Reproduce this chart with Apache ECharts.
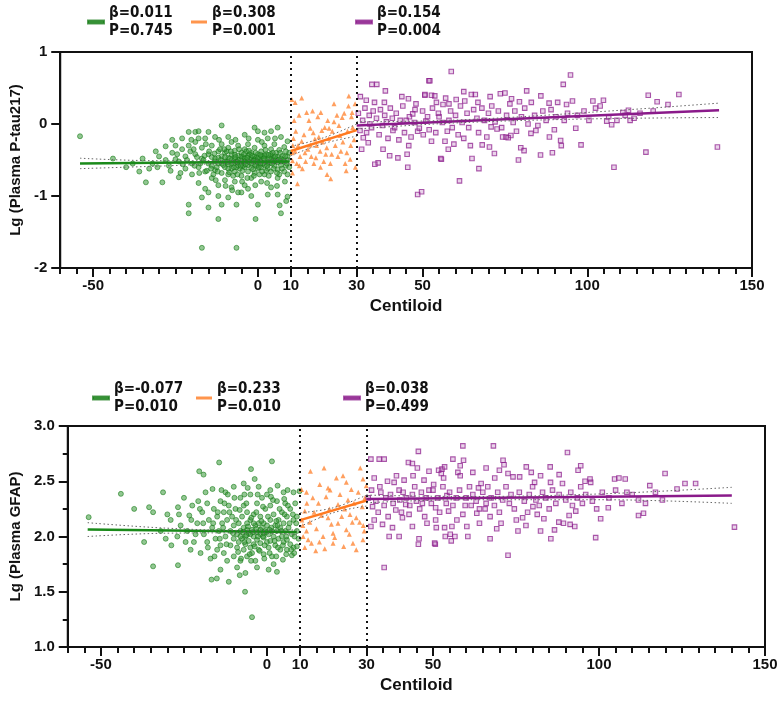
<!DOCTYPE html>
<html>
<head>
<meta charset="utf-8">
<script src="https://cdn.jsdelivr.net/npm/echarts@6/dist/echarts.min.js"></script>
<style>
  html, body { margin: 0; background: #fff; }
  #chart { width: 782px; height: 706px; }
</style>
</head>
<body>
<div id="chart"></div>
<script>
// x axis labels (Centiloid)
const xLabels = [-50, 0, 10, 30, 50, 100, 150];
const cutPoints = [10, 30];

// legend texts
const topStats = [['β=0.011', 'P=0.745'], ['β=0.308', 'P=0.001'], ['β=0.154', 'P=0.004']];
const botStats = [['β=-0.077', 'P=0.010'], ['β=0.233', 'P=0.010'], ['β=0.038', 'P=0.499']];

// ---- panel 1: Lg (Plasma P-tau217) ----
const topGreen = [
  [-54,-0.17],[-44,-0.48],[-35,-0.48],[-34,-0.81],[-31,-0.38],[-29,-0.81],[-28,-0.31],[-26,-0.22],[-25,-0.49],[-24,-0.74],
  [-23,-0.20],[-21,-0.11],[-19,-0.11],[-21,-1.12],[-21,-1.24],[-17,-1.72],[-6.5,-1.72],[-18,-0.10],[-15,-0.11],[-11,-0.02],
  [-12,-1.32],[-17,-1.02],[-15,-1.16],[-11,-1.12],[-9,-1.02],[-6.5,-1.12],[-8,-0.88],[-6,-0.95],[0,-1.12],[-0.7,-1.32],
  [0,-0.10],[6,-0.05],[6.6,-1.13],[7,-1.24],[8.6,-1.07],[9,-1.01],[6,-0.98],[3,-0.98],
  [-38,-0.55],[-33,-0.62],[-30,-0.45],[-27,-0.58],[-26,-0.40],[-24,-0.52],[-23,-0.35],[-22,-0.62],[-22,-0.45],[-21,-0.30],
  [-20,-0.55],[-20,-0.70],[-19,-0.42],[-19,-0.25],[-18,-0.60],[-18,-0.82],[-17,-0.48],[-17,-0.33],[-16,-0.66],[-16,-0.20],
  [-16,-0.90],[-15,-0.55],[-15,-0.42],[-14,-0.75],[-14,-0.30],[-14,-0.58],[-13,-0.48],[-13,-0.64],[-13,-0.18],[-12,-0.38],
  [-12,-0.55],[-12,-0.85],[-11,-0.45],[-11,-0.68],[-11,-0.28],[-10,-0.52],[-10,-0.60],[-10,-0.40],[-10,-0.78],[-9,-0.47],
  [-9,-0.56],[-9,-0.33],[-9,-0.70],[-8,-0.50],[-8,-0.42],[-8,-0.62],[-8,-0.25],[-7.5,-0.55],[-7,-0.48],[-7,-0.37],
  [-7,-0.66],[-7,-0.80],[-6.5,-0.52],[-6,-0.44],[-6,-0.58],[-6,-0.30],[-5.5,-0.62],[-5,-0.49],[-5,-0.40],[-5,-0.55],
  [-5,-0.72],[-4.5,-0.46],[-4,-0.52],[-4,-0.35],[-4,-0.60],[-4,-0.85],[-3.5,-0.50],[-3,-0.44],[-3,-0.57],[-3,-0.28],
  [-3,-0.66],[-2.5,-0.53],[-2,-0.47],[-2,-0.40],[-2,-0.61],[-2,-0.75],[-1.5,-0.51],[-1,-0.45],[-1,-0.56],[-1,-0.33],
  [-1,-0.68],[-0.5,-0.50],[0,-0.42],[0,-0.54],[0,-0.62],[0,-0.22],[0.5,-0.48],[1,-0.52],[1,-0.38],[1,-0.60],
  [1,-0.80],[1.5,-0.45],[2,-0.50],[2,-0.30],[2,-0.57],[2,-0.70],[2.5,-0.42],[3,-0.49],[3,-0.62],[3,-0.20],
  [3.5,-0.55],[4,-0.44],[4,-0.35],[4,-0.66],[4,-0.88],[4.5,-0.52],[5,-0.47],[5,-0.58],[5,-0.28],[5.5,-0.40],
  [6,-0.53],[6,-0.63],[6,-0.75],[6.5,-0.36],[7,-0.48],[7,-0.57],[7,-0.18],[7.5,-0.44],[8,-0.52],[8,-0.66],
  [8,-0.32],[8.5,-0.58],[9,-0.45],[9,-0.50],[9,-0.24],[9,-0.70],[9.5,-0.40],[9.5,-0.60],
  [-14,-0.46],[-13,-0.52],[-12,-0.47],[-11,-0.55],[-10,-0.46],[-9,-0.62],[-8,-0.55],[-7,-0.43],[-6,-0.50],[-5,-0.45],
  [-4,-0.47],[-3,-0.52],[-2,-0.55],[-1,-0.49],[0,-0.47],[1,-0.45],[2,-0.44],[3,-0.54],[4,-0.50],[5,-0.52],
  [6,-0.46],[7,-0.52],[-8.5,-0.48],[-6.5,-0.60],[-4.5,-0.58],[-2.5,-0.42],[-0.5,-0.58],[1.5,-0.55],[3.5,-0.47],[5.5,-0.49],
  [-10.5,-0.57],[-12.5,-0.60],[-16.5,-0.50],[-18.5,-0.46],[-20.5,-0.38],[-23.5,-0.68],[-25,-0.30],[-28,-0.50],[-32,-0.55],[-36,-0.66],
  [-40,-0.60],[-3.5,-0.38],[-1.5,-0.63],[0.5,-0.70],[2.5,-0.65],[4.5,-0.40],[6.5,-0.70],[8.5,-0.38],[-7.5,-0.72],[-9.5,-0.38],
  [-11.5,-0.35],[-13.5,-0.70],[-15.5,-0.65],[-17.5,-0.55],[-19.5,-0.35],[-5,-0.95],[-3,-0.90],[-2,-1.00],[-15,-0.95],[-12,-1.00],
  [-1,-0.05],[-4,-0.15],[-9,-0.18],[2,-0.12],[4,-0.10],[-18,-0.20],
  [-13.2,-0.41],[-12.2,-0.66],[-11.3,-0.50],[-10.2,-0.35],[-9.3,-0.53],[-8.7,-0.67],[-8.2,-0.38],[-7.3,-0.60],[-6.8,-0.46],[-6.2,-0.70],
  [-5.7,-0.35],[-5.2,-0.58],[-4.7,-0.65],[-4.2,-0.42],[-3.7,-0.56],[-3.2,-0.75],[-2.7,-0.37],[-2.2,-0.50],[-1.7,-0.44],[-1.2,-0.72],
  [-0.7,-0.40],[-0.2,-0.52],[0.3,-0.60],[0.8,-0.43],[1.3,-0.66],[1.8,-0.48],[2.3,-0.36],[2.8,-0.58],[3.3,-0.72],[3.8,-0.42],
  [4.3,-0.55],[4.8,-0.62],[5.3,-0.45],[5.8,-0.68],[6.3,-0.50],[6.8,-0.40],[7.3,-0.62],[7.8,-0.50],[8.3,-0.45],[8.8,-0.55],
  [-14.8,-0.38],[-14.2,-0.62],[-16.2,-0.44],[-17.8,-0.68],[-19.2,-0.58],[-21.5,-0.50],[-22.8,-0.56],[-24.5,-0.42],[-12.8,-0.78],[-9.8,-0.86],
  [-7.8,-0.92],[-4.8,-0.80],[-0.8,-0.85],[2.8,-0.82],[5.8,-0.86],[8.2,-0.80],[-6.8,-0.22],[-2.8,-0.20],[1.2,-0.25],[5.2,-0.20],
  [-11.8,-0.22],[-15.8,-0.28],[-20.2,-0.22],[-26.5,-0.65],[-30.5,-0.60],[-3.2,-0.47],[-6.2,-0.53],[-1.2,-0.51],[0.8,-0.55],[3.2,-0.43]
];
const topOrange = [
  [10.3,0.34],[11.3,0.30],[13.3,0.36],[14.8,0.16],[16.6,0.18],[19.1,0.16],[23.1,0.28],[27.6,0.39],[28.6,0.16],[28.4,0.10],
  [25.6,0.09],[23.1,0.03],[15.9,-0.06],[19.4,-0.09],[21.6,-0.06],[24.9,-0.16],[17.3,-0.21],[13.3,-0.24],[11.3,-0.38],[14.3,-0.40],
  [18.9,-0.38],[22.4,-0.42],[25.2,-0.38],[28,-0.49],[27,-0.40],[10.5,-0.51],[12.6,-0.58],[17.6,-0.47],[20,-0.52],[12,-0.83],
  [22.1,-0.76],[10.5,-0.68],[15.9,-0.29],[20.9,-0.33],
  [10.8,-0.20],[11.5,-0.10],[12.2,-0.30],[12.8,-0.45],[13.5,-0.62],[14,-0.15],[14.5,-0.52],[15.2,-0.35],[15.5,0.05],[16.2,-0.45],
  [16.8,-0.12],[17,-0.55],[17.8,-0.30],[18.2,0.10],[18.5,-0.18],[19,-0.60],[19.6,-0.25],[20.3,-0.05],[20.6,-0.42],[21.2,0.05],
  [21.5,-0.20],[22,-0.55],[22.6,-0.10],[23.5,-0.30],[24,0.12],[24.3,-0.45],[24.6,-0.02],[25.8,-0.25],[26.2,0.15],[26.5,-0.55],
  [27.2,-0.10],[27.5,0.25],[28.2,-0.30],[28.8,-0.05],[29.2,-0.22],[29.5,0.28],[29.6,-0.60],[11,0.05],[12.5,0.12],[10.4,-0.40],
  [10.6,-0.30],[11.8,-0.55],[26.8,-0.65],[21,-0.70]
];
const topPurple = [
  [34.6,0.55],[36.1,0.55],[38.7,0.46],[31.1,0.38],[32.9,0.33],[35.4,0.30],[38.4,0.30],[43.7,0.38],[45.7,0.35],[47.7,0.20],
  [50.7,0.41],[52.2,0.60],[53.7,0.39],[56.2,0.27],[32,-0.19],[33.5,-0.26],[31.5,-0.35],[36.5,-0.54],[35.5,-0.56],[40,-0.44],
  [42.5,-0.47],[45.3,-0.42],[45.5,-0.60],[48.5,-0.98],[49.7,-0.94],[55.5,-0.48],[52.7,-0.24],[56.8,-0.24],[31,-0.09],[34,0.00],
  [39,0.03],[41,-0.09],[45,0.05],[47,0.14],[49,-0.06],[51,0.04],[55,0.10],[58,0.05],
  [58.7,0.73],[51.9,0.60],[94.9,0.68],[92.7,0.55],[118.5,0.40],[127.8,0.41],[121.2,0.31],[124.5,0.27],[101.7,0.32],[104.9,0.33],
  [103.9,0.25],[110.8,0.16],[112.5,0.19],[114.2,0.08],[139.5,-0.32],[117.8,-0.39],[108.1,-0.60],[107.4,-0.01],[105.9,0.04],[98.1,-0.29],
  [96.5,-0.06],[93.7,0.27],[91.9,-0.23],[92.1,-0.30],[89.4,-0.40],[85.8,-0.43],[88.5,-0.18],[90,-0.08],[88.4,0.29],[85.9,0.39],
  [81.6,0.46],[79.4,0.31],[79.8,-0.33],[79.1,-0.50],[80.8,-0.37],[75,0.43],[73.6,0.42],[71.8,-0.41],[70.3,-0.32],[68.1,-0.29],
  [67.1,-0.62],[65,-0.48],[61.2,-0.79],[55.7,-0.49],[66,0.41],[64.8,0.41],[58,0.28],[60.2,0.34],[62.8,0.32],[57,0.36],
  [54.2,0.30],[52.7,0.40],[50.7,0.40],[75.3,-0.18],[76,-0.19],[76.8,-0.16],[74.3,-0.18],[82.9,-0.13],[84.4,-0.09],[70.8,-0.04],
  [72.6,-0.07],
  [30.5,0.15],[31.8,0.05],[32.5,0.22],[33,-0.12],[33.8,0.12],[34.5,-0.05],[35,0.18],[36,0.08],[36.8,-0.15],[37.2,0.20],
  [37.8,-0.02],[38.5,0.12],[39.5,-0.20],[40.2,0.22],[40.8,0.08],[41.5,-0.05],[42,0.15],[42.8,-0.22],[43.2,0.05],[44,0.25],
  [44.5,-0.12],[46,0.10],[46.5,-0.18],[47.5,0.02],[48,0.28],[48.5,-0.10],[50,0.18],[50.2,-0.15],[51.5,0.10],[52,-0.08],
  [53,0.22],[54,-0.12],[54.8,0.15],[56,0.02],[57.5,-0.10],[58.5,0.18],[59,-0.05],[60,0.12],[60.8,-0.15],[61.5,0.25],
  [62,0.02],[62.5,-0.20],[63.5,0.15],[64,-0.05],[65.5,0.20],[66.5,0.08],[67,-0.12],[68,0.22],[68.8,0.05],[69.5,-0.18],
  [70,0.15],[71,0.25],[72,0.03],[73,0.18],[74,-0.05],[75.5,0.12],[76.5,0.28],[77.5,0.02],[78,0.18],[78.5,-0.10],
  [80,0.10],[81,0.22],[82,0.00],[83,0.30],[84,0.12],[85,-0.02],[86.5,0.18],[87.5,0.05],[89,0.20],[90.5,0.10],
  [91,0.30],[93,0.05],[94,0.15],[95.5,0.32],[97,0.12],[99,0.18],[100.5,0.05],[102.5,0.22],[106.5,0.10],[109,0.05],
  [111.5,0.12],[113,0.05],[116,0.15],[120,0.18],[62.5,0.45],[70.5,0.38],[77,0.35],[66.8,0.30],[59.5,-0.28],[64.5,-0.30],
  [57.8,-0.35],[45.8,-0.30],[38,-0.35]
];
const topGreenFit = [[-54,-0.55],[9.5,-0.52]];
const topGreenUp = [[-54,-0.475],[-30,-0.51],[-5,-0.505],[9.5,-0.49]];
const topGreenLo = [[-54,-0.62],[-30,-0.585],[-5,-0.545],[9.5,-0.55]];
const topOrangeFit = [[10,-0.375],[30,-0.085]];
const topOrangeUp = [[10,-0.31],[20,-0.19],[30,0.0]];
const topOrangeLo = [[10,-0.44],[20,-0.27],[30,-0.17]];
const topPurpleFit = [[30,-0.02],[140,0.19]];
const topPurpleUp = [[30,0.03],[60,0.055],[100,0.16],[140,0.29]];
const topPurpleLo = [[30,-0.07],[60,0.015],[100,0.07],[140,0.09]];

// ---- panel 2: Lg (Plasma GFAP) ----
const botGreen = [
  [-53.7,2.175],[-44,2.386],[-35.5,2.265],[-34.3,2.22],[-31.3,2.40],[-34.3,1.73],[-26.8,1.74],[-30,2.20],[-28.8,1.92],[-26.8,2.265],
  [-26,2.10],[-23.4,2.19],[-20.7,2.32],[-20.4,2.59],[-19.1,2.56],[-16.7,1.61],[-15.1,1.62],[-16.4,2.43],[-14.4,2.67],[-13.7,2.42],
  [-11.5,1.59],[-8.2,1.65],[-6.5,1.67],[-6.6,1.50],[-4.5,1.27],[-4.8,2.61],[-3.7,2.52],[1.5,2.68],[-5.8,2.44],[3.2,2.46],
  [3,1.68],[0.5,1.70],[4.8,1.79],[6,1.88],[7.5,1.83],[9,1.91],[6.2,2.42],[8,2.40],[9.8,2.41],
  [-24,2.05],[-22.5,2.28],[-22,1.95],[-21,2.12],[-20,1.85],[-19.5,2.22],[-19,2.02],[-18,2.30],[-18,1.95],[-17.5,2.15],
  [-17,1.80],[-16.5,2.08],[-16,2.25],[-15.5,1.98],[-15,2.18],[-15,1.88],[-14.5,2.05],[-14,2.32],[-14,1.92],[-13.5,2.12],
  [-13,1.85],[-13,2.22],[-12.5,2.00],[-12,2.15],[-12,1.78],[-11.5,2.28],[-11,2.05],[-11,1.92],[-10.5,2.18],[-10,1.98],
  [-10,2.10],[-10,1.82],[-9.5,2.25],[-9,2.02],[-9,1.90],[-8.5,2.12],[-8.5,1.95],[-8,2.35],[-8,2.05],[-8,1.78],
  [-7.5,1.98],[-7.5,2.18],[-7,2.08],[-7,1.88],[-7,2.28],[-6.5,2.00],[-6.5,1.93],[-6,2.12],[-6,2.22],[-6,1.82],
  [-5.5,2.03],[-5.5,1.96],[-5,2.15],[-5,1.90],[-5,2.38],[-4.5,2.06],[-4.5,1.85],[-4,2.00],[-4,2.20],[-4,1.93],
  [-3.5,2.10],[-3.5,1.78],[-3,2.04],[-3,1.97],[-3,2.30],[-2.5,2.12],[-2.5,1.88],[-2,2.02],[-2,2.18],[-2,1.94],
  [-1.5,2.08],[-1.5,2.35],[-1,1.99],[-1,2.12],[-1,1.84],[-0.5,2.05],[-0.5,2.25],[0,1.95],[0,2.10],[0,2.38],
  [0.5,2.02],[0.5,1.90],[1,2.15],[1,2.28],[1,1.96],[1.5,2.05],[1.5,1.82],[2,2.00],[2,2.20],[2.5,2.10],
  [2.5,1.92],[3,2.05],[3,2.32],[3.5,1.98],[3.5,2.15],[4,2.08],[4,1.88],[4.5,2.22],[4.5,2.00],[5,1.95],
  [5,2.12],[5.5,2.30],[5.5,2.05],[6,2.18],[6,1.97],[6.5,2.08],[7,2.25],[7,1.93],[7.5,2.02],[8,2.15],
  [8,1.90],[8.5,2.30],[9,2.05],[9,2.18],[9.5,1.98],[-27,2.00],[-29,2.15],[-32,2.05],[-25,2.35],[-23,1.88],
  [-37,1.95],[-40,2.25],[-18.5,2.40],[-12.5,2.40],[-10,2.45],[-7,2.48],[-2.5,2.45],[1,2.42],[5,2.40],[-9,1.72],
  [-3,1.72],[2,1.75],[-14,1.70],[-5,2.02],[-2,2.06],[-6,2.06],[-8,2.00],[-4,2.12],[-1,2.03],
  [-13.2,2.08],[-12.2,1.93],[-11.3,2.22],[-10.2,2.03],[-9.3,2.15],[-8.7,1.86],[-8.2,2.24],[-7.3,2.04],[-6.8,1.95],[-6.2,2.30],
  [-5.7,2.09],[-5.2,1.84],[-4.7,2.17],[-4.2,2.04],[-3.7,1.91],[-3.2,2.22],[-2.7,2.00],[-2.2,1.87],[-1.7,2.14],[-1.2,2.27],
  [-0.7,1.92],[-0.2,2.04],[0.3,2.18],[0.8,1.85],[1.3,2.08],[1.8,2.33],[2.3,1.96],[2.8,2.14],[3.3,1.90],[3.8,2.25],
  [4.3,2.05],[4.8,1.92],[5.3,2.20],[5.8,2.00],[6.3,2.28],[6.8,2.12],[7.3,1.88],[7.8,2.20],[8.3,2.00],[8.8,2.12],
  [-14.8,2.22],[-14.2,1.98],[-16.2,2.12],[-17.8,1.90],[-19.2,2.12],[-21.5,2.02],[-22.8,2.15],[-24.5,1.95],[-12.8,2.30],[-9.8,2.35],
  [-7.8,1.80],[-4.8,1.78],[-0.8,1.80],[2.8,1.82],[5.8,1.84],[8.2,1.85],[-6.8,2.38],[-2.8,2.38],[1.2,2.36],[5.2,2.34],
  [-11.8,2.38],[-15.8,1.82],[-20.2,2.25],[-26.5,2.20],[-30.5,1.98],[-3.2,2.07],[-6.2,2.01],[-1.2,2.00],[0.8,2.06],[3.2,2.10]
];
const botOrange = [
  [10.4,2.425],[11.9,2.40],[13.1,2.59],[17.2,2.62],[15.9,2.47],[18.4,2.44],[20.9,2.53],[22.9,2.55],[23.9,2.49],[25.4,2.425],
  [28.1,2.62],[28.9,2.52],[29.9,2.46],[11.4,2.23],[12.9,2.13],[11.9,2.05],[10.9,2.00],[11.4,1.90],[13.4,1.94],[14.7,1.87],
  [17.4,1.89],[19.9,2.03],[20.4,1.99],[19.9,1.94],[23.1,1.91],[26.9,1.88],[25.9,1.94],[28.9,1.97],[16.4,2.19],[18.4,2.17],
  [21.4,2.29],[23.4,2.25],[25,2.20],[26.9,2.17],[27.9,2.13],[29,2.10],[28.7,2.27],[24.4,2.33],[21.4,2.12],[14.9,2.07],
  [16.9,2.00],[19.4,2.11],[23.9,2.06],[25.7,2.13],
  [10.5,2.15],[12,2.30],[13.8,2.35],[14.2,2.22],[15.5,2.30],[17.8,2.36],[19,2.42],[22,2.38],[24.8,2.02],[26.2,2.30],
  [27.5,2.40],[29.5,2.35],[10.8,2.10],[12.4,1.97],[15.8,1.95],[18.8,2.25],[22.5,2.18],[29.3,2.05]
];
const botPurple = [
  [31.3,2.70],[33.8,2.70],[35.3,2.70],[42.6,2.67],[43.8,2.66],[45.6,2.77],[45.3,2.62],[48.8,2.59],[52.7,2.61],[35.3,1.72],
  [36.8,2.00],[39.8,2.00],[45.8,1.98],[45.6,1.93],[50.7,1.93],[53.7,2.00],[31.3,2.09],[32.3,2.15],[34.8,2.11],[37.8,2.08],
  [40.8,2.17],[42.8,2.20],[43.8,2.09],[48.2,2.12],[51,2.08],[55.7,2.09],[32.3,2.53],[36.3,2.50],[38.3,2.49],[41.3,2.51],
  [47.3,2.51],[50.2,2.47],[53.2,2.53],[31.8,2.27],[35.3,2.28],[38.8,2.24],[41.8,2.29],[46.8,2.30],[50.8,2.26],[54.7,2.23],
  [34.3,2.40],[39.8,2.42],[43.8,2.38],[48.8,2.42],[54.2,2.37],
  [59,2.82],[68.2,2.82],[90.5,2.76],[72.6,1.83],[140.8,2.085],[99,1.99],[50.5,1.94],[55.5,1.96],[56.6,2.00],[67.2,1.98],
  [119.9,2.57],[125.9,2.48],[129.1,2.48],[123.5,2.43],[115.3,2.46],[119.1,2.33],[113.4,2.21],[111.9,2.19],[111.9,2.33],[106.9,2.30],
  [108.4,2.40],[106,2.53],[104.7,2.52],[107.9,2.52],[102.8,2.26],[100.5,2.16],[99.3,2.25],[97.3,2.52],[97.5,2.49],[94.5,2.64],
  [93.7,2.60],[95.8,2.50],[94.5,2.45],[93,2.23],[92.7,2.09],[91.3,2.11],[89.3,2.12],[91,2.19],[85.4,2.49],[85.3,2.63],
  [82.4,2.55],[82.4,2.05],[86.6,2.06],[87.9,2.13],[83.4,2.16],[81.4,2.20],[80.1,2.27],[80.6,2.49],[79.6,2.58],[78.1,2.63],
  [76.1,2.54],[75.6,2.05],[77,2.17],[75.1,2.15],[74.1,2.54],[72.6,2.57],[71.4,2.65],[71.1,2.69],[68.6,2.53],[69.2,2.07],
  [67.2,2.18],[65.7,2.25],[64.5,2.48],[63.7,2.44],[59.2,2.69],[58.2,2.64],[57.5,2.58],[58.2,2.55],[53.5,2.63],[51.7,2.60],
  [52.5,2.57],[60.2,2.09],[57.2,2.15],[55.2,2.02],[53.5,2.08],[59.7,2.28],[63.2,2.21],[50.8,2.15],
  [30.5,2.35],[31.5,2.42],[32.8,2.32],[33.5,2.22],[34,2.45],[35.8,2.35],[36.5,2.18],[37.2,2.38],[38,2.30],[39,2.55],
  [40,2.33],[40.5,2.22],[41,2.40],[42,2.35],[43,2.28],[44.5,2.45],[45,2.32],[46,2.25],[46.5,2.40],[47.5,2.18],
  [48,2.35],[49.5,2.30],[50,2.42],[51.5,2.35],[52,2.22],[53,2.45],[54,2.30],[55,2.40],[56,2.28],[57,2.35],
  [58,2.42],[59,2.20],[60,2.35],[61,2.45],[61.5,2.28],[62,2.38],[63,2.32],[64,2.25],[65,2.40],[66,2.30],
  [66.5,2.45],[67.5,2.35],[68.5,2.28],[69.5,2.40],[70,2.22],[71,2.33],[72,2.45],[73,2.30],[73.5,2.38],[74.5,2.25],
  [76,2.40],[77.5,2.32],[78.5,2.22],[79,2.38],[80,2.45],[81,2.33],[82,2.28],[83,2.40],[84,2.35],[85,2.25],
  [86,2.42],[87,2.30],[88,2.38],[89,2.48],[90,2.33],[91.5,2.40],[92,2.28],[93.5,2.35],[95,2.30],[96,2.38],
  [98,2.32],[101,2.40],[103,2.35],[105,2.42],[110,2.38],[114,2.30],[117,2.40],[62,2.58],[66,2.62],[70,2.60],
  [56,2.70],[44,2.55],[88,2.56],[64,2.12],[70.5,2.12],[78,2.10],[60.5,2.00],[85.5,1.98]
];
const botGreenFit = [[-54,2.063],[9,2.04]];
const botGreenUp = [[-54,2.125],[-30,2.075],[-5,2.055],[9,2.06]];
const botGreenLo = [[-54,2.0],[-30,2.03],[-5,2.033],[9,2.02]];
const botOrangeFit = [[10,2.148],[30,2.326]];
const botOrangeUp = [[10,2.215],[20,2.26],[30,2.375]];
const botOrangeLo = [[10,2.09],[20,2.215],[30,2.275]];
const botPurpleFit = [[30,2.34],[140,2.37]];
const botPurpleUp = [[30,2.375],[60,2.362],[100,2.385],[140,2.445]];
const botPurpleLo = [[30,2.305],[60,2.333],[100,2.333],[140,2.30]];

const GREEN = '#1a8a1a', ORANGE = '#ff7a21', PURPLE = '#8a1a8a';
const ink = '#111';
const font = '"Liberation Sans", Arial, sans-serif';
const narrow = '"Liberation Sans Narrow", "DejaVu Sans Condensed", "Liberation Sans", sans-serif';

const chart = echarts.init(document.getElementById('chart'));

function scatter(name, idx, data, kind) {
  const s = { name: name, type: 'scatter', xAxisIndex: idx * 2, yAxisIndex: idx, data: data, z: 2 };
  if (kind === 'g') {
    s.symbol = 'circle'; s.symbolSize = 5;
    s.itemStyle = { color: 'rgba(60,155,60,0.7)', borderColor: 'rgba(20,120,20,0.9)', borderWidth: 0.8 };
  } else if (kind === 'o') {
    s.symbol = 'triangle'; s.symbolSize = 5;
    s.itemStyle = { color: 'rgba(255,122,33,0.9)' };
  } else {
    s.symbol = 'rect'; s.symbolSize = 4.5;
    s.itemStyle = { color: 'rgba(170,80,170,0.3)', borderColor: 'rgba(138,26,138,0.9)', borderWidth: 1.1 };
  }
  return s;
}
function fit(name, idx, data, color) {
  return { name: name, type: 'line', xAxisIndex: idx * 2, yAxisIndex: idx, data: data, symbol: 'none',
    lineStyle: { color: color, width: 2.5 }, z: 4 };
}
function band(idx, data) {
  return { type: 'line', xAxisIndex: idx * 2, yAxisIndex: idx, data: data, symbol: 'none', smooth: 0.4,
    lineStyle: { color: '#666', width: 1, type: [1.5, 2.5] }, z: 5, silent: true };
}
function cuts(idx) {
  return { type: 'line', xAxisIndex: idx * 2, yAxisIndex: idx, data: [], z: 6,
    markLine: { silent: true, symbol: 'none', label: { show: false },
      lineStyle: { color: ink, width: 2, type: [2, 4] },
      data: cutPoints.map(v => ({ xAxis: v })) } };
}
function legend(name, left, top, stats, color) {
  return { data: [name], left: left, top: top, padding: 0, orient: 'vertical', selectedMode: false,
    icon: 'rect', itemWidth: 16, itemHeight: 3, itemStyle: { color: color },
    formatter: () => stats[0] + '\n' + stats[1],
    textStyle: { fontFamily: narrow, fontWeight: 'bold', fontSize: 15, color: ink, lineHeight: 18 } };
}
function xAxes(idx) {
  return [
    { gridIndex: idx, type: 'value', position: 'bottom', min: -60, max: 150, interval: 5,
      axisLine: { onZero: false, lineStyle: { color: ink, width: 2 } },
      axisTick: { length: 6, lineStyle: { color: ink, width: 2 } },
      axisLabel: { show: false }, splitLine: { show: false } },
    { gridIndex: idx, type: 'value', position: 'bottom', min: -60, max: 150,
      name: 'Centiloid', nameLocation: 'middle', nameGap: 30,
      nameTextStyle: { fontFamily: font, fontWeight: 'bold', fontSize: 17, color: ink },
      axisLine: { show: false, onZero: false },
      axisTick: { length: 9, customValues: xLabels, lineStyle: { color: ink, width: 2 } },
      axisLabel: { customValues: xLabels, margin: 10, fontFamily: font, fontWeight: 'bold', fontSize: 15, color: ink },
      splitLine: { show: false } }
  ];
}

const option = {
  animation: false,
  backgroundColor: '#fff',
  grid: [
    { left: 57, top: 52, width: 695, height: 216, show: true, borderColor: ink, borderWidth: 2 },
    { left: 59, top: 426, width: 706, height: 221, show: true, borderColor: ink, borderWidth: 2 }
  ],
  legend: [
    legend('tg', 87, 4, topStats[0], GREEN),
    legend('to', 191, 4, topStats[1], ORANGE),
    legend('tp', 355, 4, topStats[2], PURPLE),
    legend('bg', 92, 380, botStats[0], GREEN),
    legend('bo', 196, 380, botStats[1], ORANGE),
    legend('bp', 343, 380, botStats[2], PURPLE)
  ],
  xAxis: xAxes(0).concat(xAxes(1)),
  yAxis: [
    { gridIndex: 0, type: 'value', min: -2, max: 1, interval: 1,
      name: 'Lg (Plasma P-tau217)', nameLocation: 'middle', nameGap: 32,
      nameTextStyle: { fontFamily: font, fontWeight: 'bold', fontSize: 15, color: ink },
      axisLine: { onZero: false, lineStyle: { color: ink, width: 2 } },
      axisTick: { length: 9, lineStyle: { color: ink, width: 2 } },
      axisLabel: { margin: 13, fontFamily: font, fontWeight: 'bold', fontSize: 15, color: ink },
      splitLine: { show: false } },
    { gridIndex: 1, type: 'value', min: 1, max: 3, interval: 0.5,
      name: 'Lg (Plasma GFAP)', nameLocation: 'middle', nameGap: 40,
      nameTextStyle: { fontFamily: font, fontWeight: 'bold', fontSize: 15, color: ink },
      axisLine: { onZero: false, lineStyle: { color: ink, width: 2 } },
      axisTick: { length: 9, lineStyle: { color: ink, width: 2 } },
      minorTick: { show: true, splitNumber: 2, length: 5, lineStyle: { color: ink, width: 2 } },
      axisLabel: { margin: 13, fontFamily: font, fontWeight: 'bold', fontSize: 15, color: ink,
        formatter: v => v.toFixed(1) },
      splitLine: { show: false } }
  ],
  series: [
    scatter('tg', 0, topGreen, 'g'), scatter('to', 0, topOrange, 'o'), scatter('tp', 0, topPurple, 'p'),
    fit('tg', 0, topGreenFit, GREEN), fit('to', 0, topOrangeFit, ORANGE), fit('tp', 0, topPurpleFit, PURPLE),
    band(0, topGreenUp), band(0, topGreenLo), band(0, topOrangeUp), band(0, topOrangeLo),
    band(0, topPurpleUp), band(0, topPurpleLo), cuts(0),
    scatter('bg', 1, botGreen, 'g'), scatter('bo', 1, botOrange, 'o'), scatter('bp', 1, botPurple, 'p'),
    fit('bg', 1, botGreenFit, GREEN), fit('bo', 1, botOrangeFit, ORANGE), fit('bp', 1, botPurpleFit, PURPLE),
    band(1, botGreenUp), band(1, botGreenLo), band(1, botOrangeUp), band(1, botOrangeLo),
    band(1, botPurpleUp), band(1, botPurpleLo), cuts(1)
  ]
};
chart.setOption(option);
</script>
</body>
</html>
